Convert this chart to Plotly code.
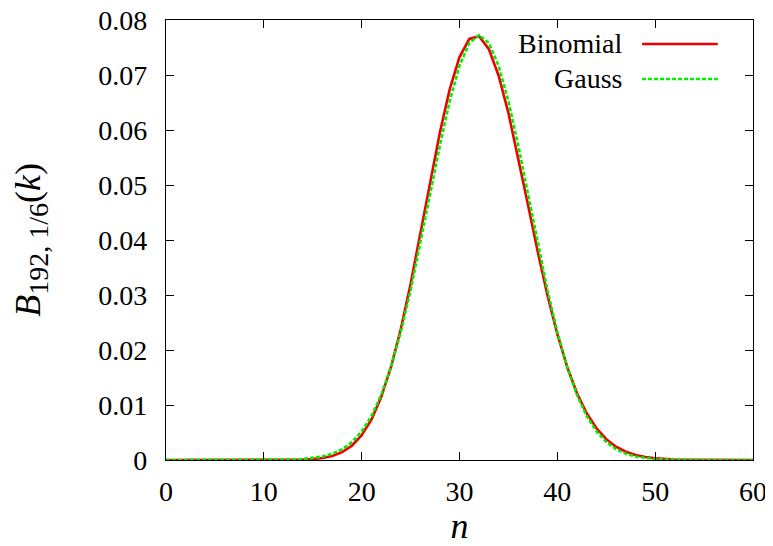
import plotly.graph_objects as go

k_values = list(range(0, 61))
binomial = [0, 0, 0, 0, 0, 0, 0, 0, 0, 0.0000002,
            0.0000009, 0.0000031, 0.0000095, 0.0000262, 0.000067, 0.000159, 0.000352, 0.000729, 0.001418, 0.002597,
            0.004493, 0.00736, 0.011442, 0.016914, 0.023821, 0.032015, 0.041127, 0.050571, 0.059602, 0.067412,
            0.073254, 0.076562, 0.07704, 0.074706, 0.069872, 0.063085, 0.055024, 0.046399, 0.037852, 0.029893,
            0.022868, 0.016956, 0.012192, 0.008506, 0.005761, 0.003789, 0.002422, 0.001505, 0.000909, 0.000534,
            0.000306, 0.00017, 0.0000923, 0.0000488, 0.0000251, 0.0000126, 0.0000062, 0.0000029, 0.0000014, 0.0000006,
            0.0000003]
gauss = [0, 0, 0, 0, 0, 0, 0, 0.0000006, 0.0000016, 0.0000038,
         0.0000088, 0.0000198, 0.0000427, 0.0000888, 0.000178, 0.000343, 0.000636, 0.001136, 0.001957, 0.003248,
         0.005192, 0.007992, 0.011847, 0.016915, 0.023267, 0.030824, 0.039332, 0.048342, 0.057228, 0.065254,
         0.071668, 0.075815, 0.07725, 0.075815, 0.071668, 0.065254, 0.057228, 0.048342, 0.039332, 0.030824,
         0.023267, 0.016915, 0.011847, 0.007992, 0.005192, 0.003248, 0.001957, 0.001136, 0.000636, 0.000343,
         0.000178, 0.0000888, 0.0000427, 0.0000198, 0.0000088, 0.0000038, 0.0000016, 0.0000006, 0.0000002, 0.0000001,
         0]
x_ticks = [0, 10, 20, 30, 40, 50, 60]
y_ticks = [0, 0.01, 0.02, 0.03, 0.04, 0.05, 0.06, 0.07, 0.08]
y_tick_labels = ["0", "0.01", "0.02", "0.03", "0.04", "0.05", "0.06", "0.07", "0.08"]
series_names = ["Binomial", "Gauss"]
RED = "#ee0000"
GREEN = "#00ee00"
FONT = "Liberation Serif"

fig = go.Figure()
fig.add_trace(go.Scatter(x=k_values, y=binomial, mode="lines", name=series_names[0],
                         line=dict(color=RED, width=2.6)))
fig.add_trace(go.Scatter(x=k_values, y=gauss, mode="lines", name=series_names[1],
                         line=dict(color=GREEN, width=2.6, dash="4px,2px")))

axis_common = dict(showline=True, linecolor="black", linewidth=1.3, mirror="ticks",
                   ticks="inside", ticklen=8, tickwidth=1, tickcolor="black",
                   showgrid=False, zeroline=False, automargin=False,
                   ticklabeloverflow="allow",
                   tickfont=dict(family=FONT, size=28, color="black"))

fig.update_xaxes(range=[0, 60], tickvals=x_ticks, ticktext=[str(v) for v in x_ticks],
                 ticklabelstandoff=6,
                 title=dict(text="<i>n</i>", font=dict(family=FONT, size=36, color="black"), standoff=34),
                 **axis_common)
fig.update_yaxes(range=[0, 0.08], tickvals=y_ticks, ticktext=y_tick_labels,
                 ticklabelstandoff=12,
                 title=dict(text="<i>B</i><sub><span style=\"font-size:28px\">192, 1/6</span></sub>(<i>k</i>)",
                            font=dict(family=FONT, size=36, color="black"), standoff=46),
                 **axis_common)

# gnuplot-style legend: right-aligned text followed by line sample
legend_rows = [(0.9455, series_names[0], RED, "solid"), (0.866, series_names[1], GREEN, "4px,2px")]
for yy, name, col, dash in legend_rows:
    fig.add_annotation(x=0.781, y=yy, xref="paper", yref="paper", text=name, showarrow=False,
                       xanchor="right", yanchor="middle",
                       font=dict(family=FONT, size=28, color="black"))
    fig.add_shape(type="line", xref="paper", yref="paper", x0=0.811, x1=0.940, y0=yy, y1=yy,
                  line=dict(color=col, width=2.6, dash=dash))

# the page body adds an 8px offset, so the figure is sized to fit the 773x546 window
fig.update_layout(width=765, height=538, showlegend=False,
                  paper_bgcolor="white", plot_bgcolor="white",
                  margin=dict(l=158, r=20, t=12, b=86),
                  font=dict(family=FONT, color="black"))

fig.write_html("out.html")
